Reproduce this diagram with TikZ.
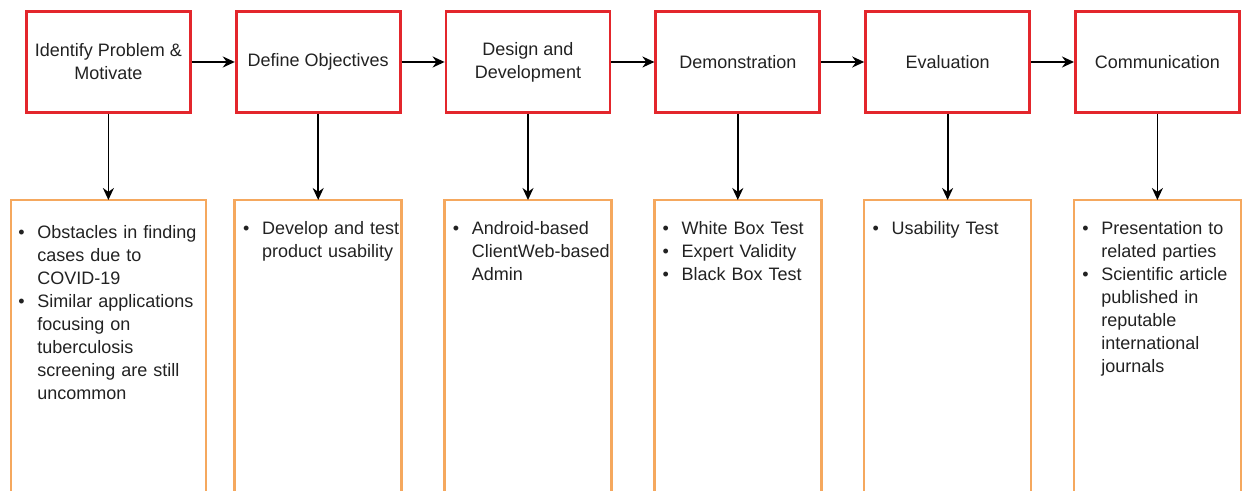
\documentclass[tikz,border=0pt]{standalone}
\usepackage{fontspec}
\setmainfont{Liberation Sans}
\usepackage{xcolor}
\usepackage{enumitem}
\definecolor{phaseRed}    {HTML}{E3262C}
\definecolor{detailOrange}{HTML}{F5A85E}
\definecolor{boxText}     {HTML}{222222}
\usetikzlibrary{arrows.meta, positioning}
\tikzset{
    phase/.style={rectangle, draw=phaseRed, line width=1.4pt,
                  minimum width=82pt, minimum height=50.6pt, align=center,
                  text=boxText, font=\fontsize{9}{11.5}\selectfont},
    detail/.style={rectangle, line width=1.3pt, minimum width=82.2pt,
                   minimum height=145pt},
    detailside/.style={draw=detailOrange, line width=1.3pt},
    bullets/.style={anchor=north west, inner sep=0pt, text width=95pt,
                    align=left, text=boxText, font=\fontsize{9}{11.5}\selectfont},
    flow/.style={-{Stealth[length=6pt, width=5.5pt]}, line width=0.9pt},
}
\newcommand{\blist}[1]{%
  \begin{itemize}[nosep, leftmargin=9.5pt, labelwidth=4pt, labelsep=5.5pt,
                  align=left, label=\textbullet]#1\end{itemize}}

\begin{document}
\begin{tikzpicture}[node distance=43pt and 21.5pt]
    \useasboundingbox (0,0) rectangle (621pt,-245.5pt);
    % research phases
    \node[phase, anchor=north west] (p1) at (12.5pt,-5pt) {Identify Problem \&\\Motivate};
    \node[phase, right=of p1] (p2) {Define Objectives};
    \node[phase, right=of p2] (p3) {Design and\\Development};
    \node[phase, right=of p3] (p4) {Demonstration};
    \node[phase, right=of p4] (p5) {Evaluation};
    \node[phase, right=of p5] (p6) {Communication};
    % detail boxes (open at the bottom)
    \node[detail, minimum width=96.2pt, below=of p1] (d1) {};
    \node[detail, below=of p2] (d2) {};
    \node[detail, below=of p3] (d3) {};
    \node[detail, below=of p4] (d4) {};
    \node[detail, below=of p5] (d5) {};
    \node[detail, below=of p6] (d6) {};
    \draw[detailside] (d1.south west) -- (d1.north west) -- (d1.north east) -- (d1.south east);
    \draw[detailside] (d2.south west) -- (d2.north west) -- (d2.north east) -- (d2.south east);
    \draw[detailside] (d3.south west) -- (d3.north west) -- (d3.north east) -- (d3.south east);
    \draw[detailside] (d4.south west) -- (d4.north west) -- (d4.north east) -- (d4.south east);
    \draw[detailside] (d5.south west) -- (d5.north west) -- (d5.north east) -- (d5.south east);
    \draw[detailside] (d6.south west) -- (d6.north west) -- (d6.north east) -- (d6.south east);
    % box contents
    \node[bullets] (l1) at ([xshift=3.5pt, yshift=-7.5pt]d1.north west)
        {\blist{\item Obstacles in finding\newline cases due to\newline COVID-19
                \item Similar applications\newline focusing on\newline tuberculosis\newline
                      screening are still\newline uncommon}};
    \node[bullets] (l2) at ([xshift=4pt, yshift=-5.5pt]d2.north west)
        {\blist{\item Develop and test\newline product usability}};
    \node[bullets] (l3) at ([xshift=4pt, yshift=-5.5pt]d3.north west)
        {\blist{\item Android-based\newline ClientWeb-based\newline Admin}};
    \node[bullets] (l4) at ([xshift=4pt, yshift=-5.5pt]d4.north west)
        {\blist{\item White Box Test \item Expert Validity \item Black Box Test}};
    \node[bullets] (l5) at ([xshift=4pt, yshift=-5.5pt]d5.north west)
        {\blist{\item Usability Test}};
    \node[bullets] (l6) at ([xshift=4pt, yshift=-5.5pt]d6.north west)
        {\blist{\item Presentation to\newline related parties
                \item Scientific article\newline published in\newline reputable\newline
                      international\newline journals}};
    % flow between phases
    \draw[flow] (p1) -- (p2);
    \draw[flow] (p2) -- (p3);
    \draw[flow] (p3) -- (p4);
    \draw[flow] (p4) -- (p5);
    \draw[flow] (p5) -- (p6);
    % phase to details
    \draw[flow] (p1) -- (d1);
    \draw[flow] (p2) -- (d2);
    \draw[flow] (p3) -- (d3);
    \draw[flow] (p4) -- (d4);
    \draw[flow] (p5) -- (d5);
    \draw[flow] (p6) -- (d6);
\end{tikzpicture}
\end{document}
